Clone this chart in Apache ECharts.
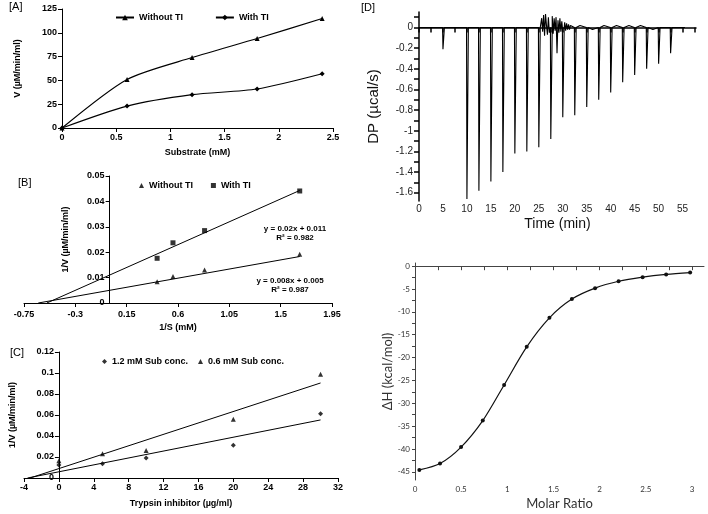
<!DOCTYPE html>
<html>
<head>
<meta charset="utf-8">
<script src="https://cdn.jsdelivr.net/npm/echarts@6.0.0/dist/echarts.min.js"></script>
<style>
body { margin: 0; background: #fff; }
#chart { width: 708px; height: 514px; }
</style>
</head>
<body>
<div id="chart"></div>
<script>
// [A] rate vs substrate
const substrate = [0, 0.6, 1.2, 1.8, 2.4];
const vWithout = [0, 51, 74, 94, 115];
const vWith = [0, 23, 35, 41, 57];

// [B] Lineweaver-Burk
const invS = [0.417, 0.556, 0.833, 1.667];
const invVWithout = [0.0084, 0.0104, 0.013, 0.0192];
const invVWith = [0.0176, 0.0237, 0.0285, 0.0441];
const fitWithout = [[-0.625, 0], [1.667, 0.0183]];
const fitWith = [[-0.55, 0], [1.667, 0.0443]];
const invSTicks = [-0.75, -0.3, 0.15, 0.6, 1.05, 1.5, 1.95];

// [C] Dixon plot
const inhibitor = [0, 5, 10, 20, 30];
const invV12 = [0.0124, 0.0136, 0.019, 0.0313, 0.0613];
const invV06 = [0.0164, 0.023, 0.0262, 0.0559, 0.0988];
const fit12 = [[-3.6, 0], [30, 0.0553]];
const fit06 = [[-3.3, 0], [30, 0.0905]];

// [D] ITC raw thermogram
const injTimes = [5, 10, 12.5, 15, 17.5, 20, 22.5, 25, 27.5, 30, 32.5, 35, 37.5, 40, 42.5, 45, 47.5, 50, 52.5];
const injDepths = [-0.21, -1.66, -1.58, -1.49, -1.40, -1.22, -1.20, -1.16, -1.08, -0.87, -0.85, -0.77, -0.70, -0.63, -0.53, -0.46, -0.40, -0.35, -0.25];
const noiseT = [25.4, 25.6, 25.8, 26.0, 26.2, 26.4, 26.6, 26.8, 27.0, 27.2, 27.8, 28.0, 28.2, 28.4, 28.6, 28.8, 29.0, 29.2, 29.4, 29.6, 29.8, 30.4, 30.6, 30.8, 31.0, 31.2, 31.4, 31.6, 33.6, 36.2, 38.6, 41.2, 43.8, 46.2, 48.8];
const noiseV = [0.03, 0.09, -0.04, 0.12, -0.08, 0.13, 0.02, -0.07, 0.10, -0.05, 0.11, -0.06, 0.09, -0.03, 0.10, -0.25, 0.07, -0.05, 0.09, -0.04, 0.06, 0.05, -0.03, 0.04, -0.02, 0.03, -0.02, 0.02, 0.02, -0.02, 0.02, 0.02, 0.02, 0.02, -0.02];
const dpLabels = [0, -0.2, -0.4, -0.6, -0.8, -1, -1.2, -1.4, -1.6];
const dpTicks = [0.1, 0, -0.1, -0.2, -0.3, -0.4, -0.5, -0.6, -0.7, -0.8, -0.9, -1, -1.1, -1.2, -1.3, -1.4, -1.5, -1.6];
const timeLabels = [0, 5, 10, 15, 20, 25, 30, 35, 40, 45, 50, 55];
const timeTicks = [0, 2.5, 5, 7.5, 10, 12.5, 15, 17.5, 20, 22.5, 25, 27.5, 30, 32.5, 35, 37.5, 40, 42.5, 45, 47.5, 50, 52.5, 55, 57.5];

// [D] integrated heats
const molarRatio = [0.047, 0.271, 0.499, 0.734, 0.965, 1.21, 1.456, 1.699, 1.95, 2.205, 2.465, 2.72, 2.98];
const deltaH = [-44.6, -43.2, -39.6, -33.8, -26.0, -17.65, -11.3, -7.2, -4.8, -3.3, -2.4, -1.8, -1.4];
const ratioLabels = [0, 0.5, 1, 1.5, 2, 2.5, 3];
const ratioTicks = [0, 0.25, 0.5, 0.75, 1, 1.25, 1.5, 1.75, 2, 2.25, 2.5, 2.75, 3];
const dhLabels = [0, -5, -10, -15, -20, -25, -30, -35, -40, -45];
const dhTicks = [0, -2.5, -5, -7.5, -10, -12.5, -15, -17.5, -20, -22.5, -25, -27.5, -30, -32.5, -35, -37.5, -40, -42.5, -45];

const zip = (xs, ys) => xs.map((x, i) => [x, ys[i]]);

// thermogram trace: flat baseline, narrow spike at each injection, noisy patch
let trace = [[0, 0], [55.5, 0]];
injTimes.forEach((t, i) => {
    trace.push([t - 0.08, 0], [t, injDepths[i]], [t + 0.3, 0]);
});
noiseT.forEach((t, i) => trace.push([t, noiseV[i]]));
trace.sort((a, b) => a[0] - b[0]);

const arial = 'Liberation Sans, Arial, sans-serif';
const bold = { fontFamily: arial, fontWeight: 'bold', fontSize: 9, color: '#000' };
const blackLine = { show: true, onZero: false, lineStyle: { color: '#000', width: 1 } };
const outTick = { show: true, inside: false, length: 4, lineStyle: { color: '#000' } };
const noSplit = { show: false };

function valAxis(o) {
    return Object.assign({
        type: 'value',
        axisLine: blackLine,
        axisTick: outTick,
        splitLine: noSplit,
        axisLabel: Object.assign({ margin: 5 }, bold),
        nameLocation: 'middle',
        nameTextStyle: bold
    }, o);
}

const option = {
    animation: false,
    backgroundColor: '#fff',
    grid: [
        { left: 62, top: 9, width: 271, height: 119, outerBoundsMode: 'none' },
        { left: 24, top: 176, width: 308, height: 127, outerBoundsMode: 'none' },
        { left: 24, top: 352, width: 314, height: 126, outerBoundsMode: 'none' },
        { left: 419, top: 12, width: 277, height: 189, outerBoundsMode: 'none' },
        { left: 415, top: 263, width: 289, height: 217, outerBoundsMode: 'none' }
    ],
    xAxis: [
        valAxis({ gridIndex: 0, min: 0, max: 2.5, interval: 0.5, name: 'Substrate (mM)', nameGap: 20 }),
        valAxis({ gridIndex: 1, min: -0.75, max: 1.95, name: '1/S (mM)', nameGap: 20,
            axisTick: Object.assign({ customValues: invSTicks }, outTick),
            axisLabel: Object.assign({ customValues: invSTicks, margin: 7 }, bold) }),
        valAxis({ gridIndex: 2, min: -4, max: 32, interval: 4, name: 'Trypsin inhibitor (µg/ml)', nameGap: 21 }),
        {
            type: 'value', gridIndex: 3, min: 0, max: 57.8,
            axisLine: { show: true, lineStyle: { color: '#000', width: 1.5 } },
            axisTick: { show: true, length: 5, customValues: timeTicks, lineStyle: { color: '#000', width: 1.5 } },
            axisLabel: { customValues: timeLabels, margin: 3, fontFamily: arial, fontSize: 10, color: '#222' },
            splitLine: noSplit,
            name: 'Time (min)', nameLocation: 'middle', nameGap: 16,
            nameTextStyle: { fontFamily: arial, fontSize: 14, color: '#111' }
        },
        {
            type: 'value', gridIndex: 4, min: 0, max: 3.13,
            axisLine: { show: true, lineStyle: { color: '#444', width: 1 } },
            axisTick: { show: true, length: 4, customValues: ratioTicks, lineStyle: { color: '#444' } },
            axisLabel: { customValues: ratioLabels, margin: 5, fontFamily: 'Lato, sans-serif', fontSize: 8, color: '#333' },
            splitLine: noSplit,
            name: 'Molar Ratio', nameLocation: 'middle', nameGap: 17,
            nameTextStyle: { fontFamily: 'Lato, sans-serif', fontSize: 13, color: '#333' }
        }
    ],
    yAxis: [
        valAxis({ gridIndex: 0, min: 0, max: 125, interval: 25, name: 'V (µM/min/ml)', nameGap: 40 }),
        // y-axis drawn at x = 0, shifted into the grid
        valAxis({ gridIndex: 1, min: 0, max: 0.05, interval: 0.01, offset: -85.6, name: '1/V (µM/min/ml)', nameGap: 40 }),
        valAxis({ gridIndex: 2, min: 0, max: 0.12, interval: 0.02, offset: -34.9, name: '1/V (µM/min/ml)', nameGap: 42 }),
        {
            type: 'value', gridIndex: 3, min: -1.68, max: 0.15,
            axisLine: { show: true, onZero: false, lineStyle: { color: '#000', width: 1.5 } },
            axisTick: { show: true, length: 5, customValues: dpTicks, lineStyle: { color: '#000', width: 1.5 } },
            axisLabel: { customValues: dpLabels, margin: 6, fontFamily: arial, fontSize: 10, color: '#222' },
            splitLine: noSplit,
            name: 'DP (µcal/s)', nameLocation: 'middle', nameGap: 38,
            nameTextStyle: { fontFamily: arial, fontSize: 15, color: '#111' }
        },
        {
            type: 'value', gridIndex: 4, min: -46.8, max: 0.7,
            axisLine: { show: true, onZero: false, lineStyle: { color: '#444', width: 1 } },
            axisTick: { show: true, length: 3, customValues: dhTicks, lineStyle: { color: '#444' } },
            axisLabel: { customValues: dhLabels, margin: 5, fontFamily: 'Lato, sans-serif', fontSize: 8, color: '#333' },
            splitLine: noSplit,
            name: 'ΔH (kcal/mol)', nameLocation: 'middle', nameGap: 17,
            nameTextStyle: { fontFamily: 'Lato, sans-serif', fontSize: 13, color: '#333' }
        }
    ],
    legend: [
        {
            data: ['Without TI', 'With TI'], left: 110, top: 8, itemGap: 32,
            itemWidth: 18, itemHeight: 7, textStyle: bold
        },
        {
            data: ['B:Without TI', 'B:With TI'], left: 134, top: 176, itemGap: 18,
            itemWidth: 5, itemHeight: 5, textStyle: bold,
            formatter: name => name.slice(2)
        },
        {
            data: ['C:1.2 mM Sub conc.', 'C:0.6 mM Sub conc.'], left: 97, top: 352, itemGap: 10,
            itemWidth: 5, itemHeight: 5, textStyle: bold,
            formatter: name => name.slice(2)
        }
    ],
    graphic: [
        { type: 'text', left: 9, top: 1, style: { text: '[A]', font: '11px Liberation Sans', fill: '#000' } },
        { type: 'text', left: 18, top: 177, style: { text: '[B]', font: '11px Liberation Sans', fill: '#000' } },
        { type: 'text', left: 10, top: 347, style: { text: '[C]', font: '11px Liberation Sans', fill: '#000' } },
        { type: 'text', left: 361, top: 2, style: { text: '[D]', font: '11px Liberation Sans', fill: '#000' } },
        { type: 'text', x: 295, y: 229, style: { text: 'y = 0.02x + 0.011', align: 'center', verticalAlign: 'middle', font: 'bold 8px Liberation Sans', fill: '#000' } },
        { type: 'text', x: 295, y: 238, style: { text: 'R² = 0.982', align: 'center', verticalAlign: 'middle', font: 'bold 8px Liberation Sans', fill: '#000' } },
        { type: 'text', x: 290, y: 281, style: { text: 'y = 0.008x + 0.005', align: 'center', verticalAlign: 'middle', font: 'bold 8px Liberation Sans', fill: '#000' } },
        { type: 'text', x: 290, y: 290, style: { text: 'R² = 0.987', align: 'center', verticalAlign: 'middle', font: 'bold 8px Liberation Sans', fill: '#000' } }
    ],
    series: [
        // A
        { name: 'Without TI', type: 'line', xAxisIndex: 0, yAxisIndex: 0, smooth: 0.25,
          data: zip(substrate, vWithout), symbol: 'triangle', symbolSize: 5,
          lineStyle: { color: '#000', width: 1.2 }, itemStyle: { color: '#000' } },
        { name: 'With TI', type: 'line', xAxisIndex: 0, yAxisIndex: 0, smooth: 0.25,
          data: zip(substrate, vWith), symbol: 'diamond', symbolSize: 5,
          lineStyle: { color: '#000', width: 1.2 }, itemStyle: { color: '#000' } },
        // B
        { name: 'B:Without TI', type: 'scatter', xAxisIndex: 1, yAxisIndex: 1,
          data: zip(invS, invVWithout), symbol: 'triangle', symbolSize: 5, itemStyle: { color: '#000' } },
        { name: 'B:With TI', type: 'scatter', xAxisIndex: 1, yAxisIndex: 1,
          data: zip(invS, invVWith), symbol: 'rect', symbolSize: 5, itemStyle: { color: '#000' } },
        { type: 'line', xAxisIndex: 1, yAxisIndex: 1, data: fitWithout, showSymbol: false,
          lineStyle: { color: '#000', width: 1 } },
        { type: 'line', xAxisIndex: 1, yAxisIndex: 1, data: fitWith, showSymbol: false,
          lineStyle: { color: '#000', width: 1 } },
        // C
        { name: 'C:1.2 mM Sub conc.', type: 'scatter', xAxisIndex: 2, yAxisIndex: 2,
          data: zip(inhibitor, invV12), symbol: 'diamond', symbolSize: 5, itemStyle: { color: '#000' } },
        { name: 'C:0.6 mM Sub conc.', type: 'scatter', xAxisIndex: 2, yAxisIndex: 2,
          data: zip(inhibitor, invV06), symbol: 'triangle', symbolSize: 5, itemStyle: { color: '#000' } },
        { type: 'line', xAxisIndex: 2, yAxisIndex: 2, data: fit12, showSymbol: false,
          lineStyle: { color: '#000', width: 1 } },
        { type: 'line', xAxisIndex: 2, yAxisIndex: 2, data: fit06, showSymbol: false,
          lineStyle: { color: '#000', width: 1 } },
        // D raw
        { type: 'line', xAxisIndex: 3, yAxisIndex: 3, data: trace, showSymbol: false,
          lineStyle: { color: '#000', width: 1.1 } },
        // D integrated
        { type: 'line', xAxisIndex: 4, yAxisIndex: 4, data: zip(molarRatio, deltaH), smooth: 0.3,
          symbol: 'circle', symbolSize: 4, lineStyle: { color: '#111', width: 1.2 }, itemStyle: { color: '#111' } }
    ]
};

const chart = echarts.init(document.getElementById('chart'));
chart.setOption(option);
</script>
</body>
</html>
